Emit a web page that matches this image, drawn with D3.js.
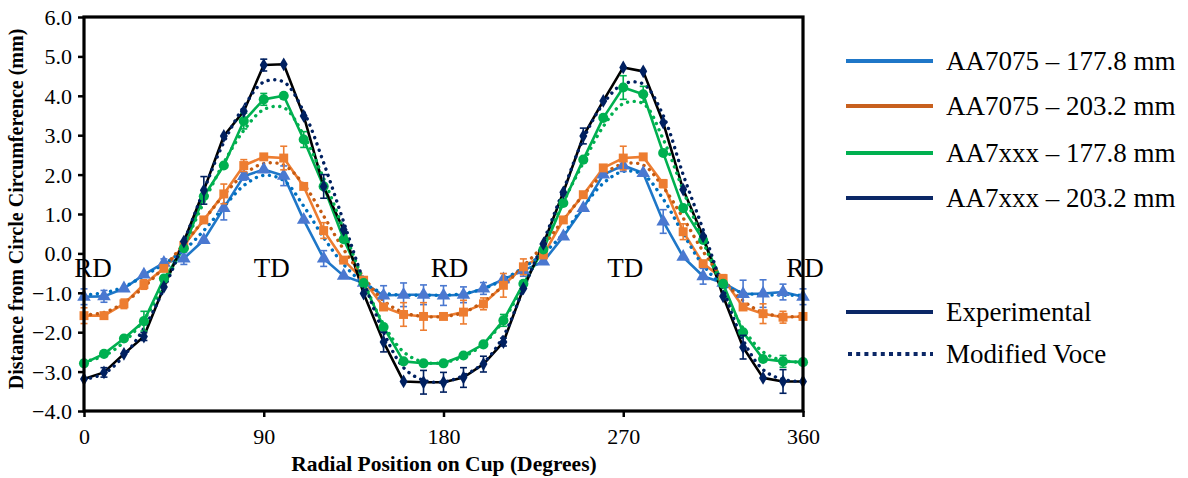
<!DOCTYPE html>
<html><head><meta charset="utf-8">
<script src="https://cdn.jsdelivr.net/npm/d3@7"></script>
<style>
html,body{margin:0;padding:0;background:#fff;}
</style></head>
<body>
<svg id="chart" width="1188" height="478"></svg>
<script>
// ---- data ----
const angles = d3.range(0, 361, 10);
const yTicks = [-4, -3, -2, -1, 0, 1, 2, 3, 4, 5, 6];
const xTicks = [0, 90, 180, 270, 360];
const seriesNames = ["AA7075 \u2013 177.8 mm", "AA7075 \u2013 203.2 mm", "AA7xxx \u2013 177.8 mm", "AA7xxx \u2013 203.2 mm"];

const expA7075_1778 = [-1.10,-1.09,-0.89,-0.54,-0.24,-0.13,0.34,1.15,1.96,2.13,1.97,0.85,-0.13,-0.57,-0.75,-1.07,-1.05,-1.05,-1.07,-1.05,-0.89,-0.66,-0.43,-0.21,0.43,1.15,2.00,2.23,2.04,0.81,-0.09,-0.58,-0.75,-1.03,-1.02,-0.98,-1.10];
const expA7075_2032 = [-1.58,-1.58,-1.28,-0.79,-0.38,0.20,0.85,1.51,2.23,2.45,2.42,1.70,0.58,-0.17,-0.68,-1.36,-1.55,-1.60,-1.60,-1.49,-1.28,-0.81,-0.34,-0.04,0.85,1.49,2.17,2.42,2.45,1.77,0.55,-0.26,-0.64,-1.36,-1.53,-1.62,-1.60];
const expA7xxx_1778 = [-2.79,-2.55,-2.16,-1.72,-0.64,0.13,1.45,2.23,3.36,3.91,4.00,2.89,1.70,0.36,-0.75,-1.87,-2.74,-2.79,-2.79,-2.59,-2.31,-1.70,-0.77,0.10,1.28,2.38,3.44,4.21,4.04,2.55,1.15,0.34,-0.77,-2.00,-2.68,-2.74,-2.76];
const expA7xxx_2032 = [-3.19,-3.02,-2.55,-2.11,-0.85,0.30,1.60,2.98,3.61,4.78,4.80,3.49,1.70,0.60,-1.02,-2.25,-3.25,-3.27,-3.27,-3.15,-2.81,-2.25,-0.89,0.24,1.55,2.98,3.87,4.72,4.62,3.32,1.62,0.43,-1.09,-2.38,-3.16,-3.25,-3.25];

const errA7075_1778 = [0.20,0.15,0.05,0.05,0.10,0.15,0.05,0.30,0.10,0.08,0.25,0.05,0.20,0.05,0.05,0.25,0.30,0.25,0.25,0.20,0.15,0.05,0.15,0.05,0.05,0.05,0.05,0.15,0.05,0.30,0.05,0.20,0.05,0.35,0.35,0.20,0.20];
const errA7075_2032 = [0.20,0.05,0.12,0.12,0.05,0.10,0.05,0.25,0.15,0.08,0.30,0.05,0.20,0.05,0.05,0.05,0.30,0.35,0.05,0.30,0.15,0.30,0.20,0.05,0.05,0.05,0.05,0.30,0.05,0.10,0.20,0.05,0.10,0.05,0.25,0.15,0.05];
const errA7xxx_1778 = [0.05,0.05,0.05,0.25,0.05,0.05,0.05,0.05,0.20,0.15,0.08,0.20,0.05,0.05,0.05,0.05,0.05,0.05,0.05,0.05,0.05,0.15,0.05,0.05,0.05,0.05,0.05,0.30,0.20,0.05,0.05,0.05,0.05,0.05,0.05,0.15,0.05];
const errA7xxx_2032 = [0.05,0.12,0.05,0.10,0.05,0.05,0.35,0.05,0.05,0.15,0.05,0.05,0.30,0.05,0.05,0.25,0.05,0.30,0.25,0.25,0.20,0.10,0.05,0.05,0.05,0.20,0.05,0.08,0.05,0.05,0.05,0.05,0.05,0.30,0.05,0.30,0.05];

const modA7075_1778 = [-1.05,-1.00,-0.85,-0.57,-0.27,0.08,0.58,1.18,1.72,1.98,1.85,1.20,0.40,-0.28,-0.75,-1.00,-1.06,-1.06,-1.06,-1.02,-0.90,-0.66,-0.36,0.00,0.50,1.18,1.78,2.08,2.00,1.38,0.50,-0.30,-0.80,-1.00,-1.05,-1.06,-1.06];
const modA7075_2032 = [-1.56,-1.50,-1.25,-0.85,-0.35,0.24,0.85,1.48,2.00,2.28,2.24,1.75,0.95,0.10,-0.60,-1.20,-1.50,-1.60,-1.60,-1.50,-1.22,-0.82,-0.32,0.20,0.85,1.48,2.00,2.27,2.24,1.68,0.90,0.05,-0.65,-1.20,-1.50,-1.60,-1.60];
const modA7xxx_1778 = [-2.75,-2.60,-2.25,-1.68,-0.80,0.20,1.30,2.30,3.12,3.65,3.70,3.00,1.90,0.60,-0.70,-1.80,-2.50,-2.76,-2.77,-2.62,-2.30,-1.70,-0.80,0.20,1.30,2.30,3.22,3.80,3.80,2.90,1.60,0.30,-0.90,-1.90,-2.50,-2.72,-2.76];
const modA7xxx_2032 = [-3.20,-3.05,-2.60,-1.90,-0.90,0.30,1.60,2.82,3.72,4.35,4.35,3.60,2.30,0.80,-0.70,-2.00,-2.90,-3.22,-3.26,-3.10,-2.78,-2.10,-0.90,0.30,1.60,2.90,3.80,4.30,4.30,3.50,2.00,0.60,-0.90,-2.20,-2.95,-3.20,-3.25];

const dirLabels = ["RD", "TD", "RD", "TD", "RD"];
const dirAngles = [4.5, 94, 183, 271, 361];
const legendLineLabels = ["Experimental", "Modified Voce"];

// ---- styles ----
const FONT = "'Liberation Serif', 'Times New Roman', 'DejaVu Serif', serif";
const series = [
  {exp: expA7075_1778, err: errA7075_1778, mod: modA7075_1778, line: "#1F77C8", mark: "#4A78D0", dot: "#0070C0", legend: "#1F77C8", shape: "tri"},
  {exp: expA7075_2032, err: errA7075_2032, mod: modA7075_2032, line: "#ED7D31", mark: "#ED7D31", dot: "#C55A11", legend: "#C8601E", shape: "sq"},
  {exp: expA7xxx_1778, err: errA7xxx_1778, mod: modA7xxx_1778, line: "#00B050", mark: "#00B050", dot: "#00B050", legend: "#00B050", shape: "circ"},
  {exp: expA7xxx_2032, err: errA7xxx_2032, mod: modA7xxx_2032, line: "#000000", mark: "#002060", dot: "#002060", legend: "#0B2766", shape: "dia"}
];

const svg = d3.select("#chart");
const L = 84, R = 803, T = 17, B = 411;
const x = d3.scaleLinear().domain([0, 360]).range([L, R]);
const y = d3.scaleLinear().domain([-4, 6]).range([B, T]);

const plot = svg.append("g");

const modLine = d3.line().x((d,i)=>x(angles[i])).y(d=>y(d)).curve(d3.curveCatmullRom.alpha(0.5));
const expLine = d3.line().x((d,i)=>x(angles[i])).y(d=>y(d));

series.forEach(s => {
  plot.append("path").attr("d", expLine(s.exp)).attr("fill","none")
    .attr("stroke", s.line).attr("stroke-width", 2.6).attr("stroke-linejoin","round");
});
series.forEach(s => {
  plot.append("path").attr("d", modLine(s.mod)).attr("fill","none")
    .attr("stroke", s.dot).attr("stroke-width", 3.4).attr("stroke-linecap","round")
    .attr("stroke-dasharray","0.1,6.6");
});
series.forEach(s => {
  const g = plot.append("g");
  s.exp.forEach((v,i) => {
    const e = s.err[i];
    if (e >= 0.1) {
      const cx = x(angles[i]);
      g.append("line").attr("x1",cx).attr("x2",cx).attr("y1",y(v-e)).attr("y2",y(v+e))
        .attr("stroke", s.mark).attr("stroke-width",1.6);
      [v-e, v+e].forEach(w => g.append("line").attr("x1",cx-3.5).attr("x2",cx+3.5)
        .attr("y1",y(w)).attr("y2",y(w)).attr("stroke", s.mark).attr("stroke-width",1.6));
    }
  });
  const sym = {tri: d3.symbolTriangle, sq: d3.symbolSquare, circ: d3.symbolCircle, dia: d3.symbolDiamond}[s.shape];
  const size = {tri: 80, sq: 80, circ: 80, dia: 55}[s.shape];
  g.selectAll("path.m").data(s.exp).join("path")
    .attr("transform",(d,i)=>`translate(${x(angles[i])},${y(d)})`)
    .attr("d", d3.symbol().type(sym).size(size)())
    .attr("fill", s.mark);
});

dirLabels.forEach((t,i) => {
  svg.append("text").attr("x", x(dirAngles[i])).attr("y", y(-0.6))
    .attr("text-anchor","middle").attr("font-family", FONT).attr("font-size", 27).text(t);
});

svg.append("rect").attr("x",L).attr("y",T).attr("width",R-L).attr("height",B-T)
  .attr("fill","none").attr("stroke","#000").attr("stroke-width",3.2);

const yAxis = svg.append("g").attr("transform",`translate(${L},0)`)
  .call(d3.axisLeft(y).tickValues(yTicks).tickSize(6).tickFormat(d3.format(".1f")))
  .attr("font-family", FONT);
yAxis.select(".domain").remove();
yAxis.selectAll(".tick line").attr("stroke","#000").attr("stroke-width",2.5);
yAxis.selectAll(".tick text").attr("font-family", FONT).attr("font-size",22).attr("x",-12).attr("dy","0.34em").attr("fill","#000");

const xAxis = svg.append("g").attr("transform",`translate(0,${B})`)
  .call(d3.axisBottom(x).tickValues(xTicks).tickSize(6))
  .attr("font-family", FONT);
xAxis.select(".domain").remove();
xAxis.selectAll(".tick line").attr("stroke","#000").attr("stroke-width",2.5);
xAxis.selectAll(".tick text").attr("font-family", FONT).attr("font-size",22).attr("y",17).attr("fill","#000");

svg.append("text").attr("x", 444).attr("y", 471).attr("text-anchor","middle").attr("font-family", FONT)
  .attr("font-size",21.5).attr("font-weight","bold").text("Radial Position on Cup (Degrees)");
svg.append("text").attr("transform","translate(23,209) rotate(-90)").attr("text-anchor","middle").attr("font-family", FONT)
  .attr("font-size",20).attr("font-weight","bold").text("Distance from Circle Circumference (mm)");

const legY = [61, 106, 153, 198];
series.forEach((s,i) => {
  svg.append("line").attr("x1",846).attr("x2",933).attr("y1",legY[i]).attr("y2",legY[i])
    .attr("stroke", s.legend).attr("stroke-width",4);
  svg.append("text").attr("x",946).attr("y",legY[i]+9).attr("font-family", FONT).attr("font-size",27).text(seriesNames[i]);
});
const leg2Y = [312, 354];
svg.append("line").attr("x1",846).attr("x2",933).attr("y1",leg2Y[0]).attr("y2",leg2Y[0])
  .attr("stroke","#0B2766").attr("stroke-width",4);
svg.append("line").attr("x1",848).attr("x2",933).attr("y1",leg2Y[1]).attr("y2",leg2Y[1])
  .attr("stroke","#0B2766").attr("stroke-width",4).attr("stroke-dasharray","4,4.2");
legendLineLabels.forEach((t,i) => {
  svg.append("text").attr("x",946).attr("y",leg2Y[i]+9).attr("font-family", FONT).attr("font-size",27).text(t);
});
</script>
</body></html>
